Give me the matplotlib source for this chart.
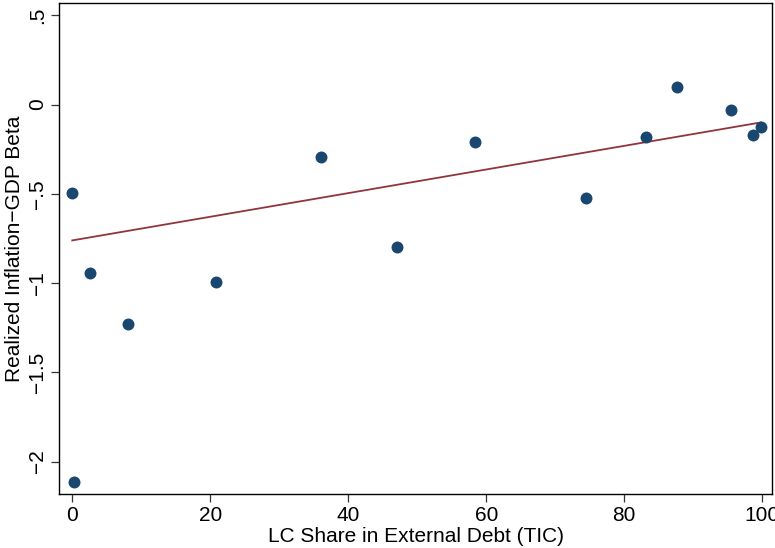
import numpy as np
import matplotlib
matplotlib.use("Agg")
import matplotlib.pyplot as plt

# LC share in external debt (TIC) vs realized inflation-GDP beta
lc_share = [0.0, 0.2, 2.6, 8.1, 20.9, 36.0, 47.0, 58.3, 74.4, 83.2, 87.7, 95.4, 98.7, 99.8]
beta = [-0.495, -2.112, -0.945, -1.229, -0.996, -0.292, -0.798, -0.212, -0.523,
        -0.182, 0.101, -0.031, -0.173, -0.125]

# fitted line as drawn in the original (endpoints)
fit_x = [0.0, 99.8]
fit_y = [-0.761, -0.100]

x_ticks = [0, 20, 40, 60, 80, 100]
y_ticks = [0.5, 0, -0.5, -1, -1.5, -2]
y_tick_labels = [".5", "0", "-.5", "-1", "-1.5", "-2"]

plt.rcParams["font.family"] = ["Liberation Sans", "DejaVu Sans"]

fig = plt.figure(figsize=(7.75, 5.48), dpi=100)
ax = fig.add_axes([0.0765, 0.0991, 0.9196, 0.8954])
ax.scatter(lc_share, beta, s=74, color="#1a476f", zorder=3, linewidths=0)
ax.plot(fit_x, fit_y, color="#90353b", linewidth=1.3, zorder=2)

ax.set_xlim(-1.88, 101.4)
ax.set_ylim(-2.180, 0.569)
ax.set_xticks(x_ticks)
ax.set_yticks(y_ticks)
ax.set_yticklabels([s.replace("-", "\u2212") for s in y_tick_labels], rotation=90, va="center")
ax.tick_params(direction="out", length=6, width=0.9, labelsize=15, colors="black", pad=3)
ax.tick_params(axis="both", color="#333333")
ax.set_xlabel("LC Share in External Debt (TIC)", fontsize=15, labelpad=1)
ax.set_ylabel("Realized Inflation\u2212GDP Beta", fontsize=15, labelpad=3)
for spine in ax.spines.values():
    spine.set_linewidth(1.0)

fig.savefig("out.png", dpi=100)
